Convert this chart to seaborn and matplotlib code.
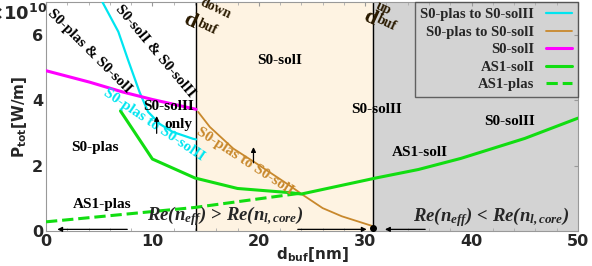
import matplotlib
matplotlib.use("Agg")
import matplotlib.pyplot as plt
import seaborn as sns
import pandas as pd

# data (x in nm, y in units of 1e10 W/m)
cyan_x = [5.3, 6.8, 7.7, 8.8, 9.6, 10.7, 11.9, 13.8, 14.1]
cyan_y = [7.0, 6.09, 5.24, 4.24, 3.64, 3.27, 3.03, 2.82, 2.8]
brown_x = [14.3, 15.4, 17.6, 19.8, 22.9, 24.2, 26.0, 27.8, 30.7]
brown_y = [3.64, 3.18, 2.52, 2.06, 1.39, 1.09, 0.70, 0.45, 0.15]
magenta_x = [0.0, 4.1, 7.2, 10.0, 14.1]
magenta_y = [4.9, 4.55, 4.25, 4.02, 3.72]
green_x = [7.0, 10.0, 14.0, 18.0, 23.0, 24.0, 31.0, 35.0, 39.0, 45.0, 50.0]
green_y = [3.67, 2.2, 1.62, 1.3, 1.17, 1.13, 1.62, 1.88, 2.22, 2.83, 3.45]
plas_x = [0.0, 14.0, 23.8]
plas_y = [0.28, 0.72, 1.15]
d_down = 14.1
d_up = 30.7

sns.set_style("white")
plt.rcParams["mathtext.fontset"] = "custom"
plt.rcParams["mathtext.rm"] = "Liberation Serif"
plt.rcParams["mathtext.bf"] = "Liberation Serif:bold"
plt.rcParams["mathtext.it"] = "Liberation Serif:italic"
plt.rcParams["mathtext.bfit"] = "Liberation Serif:bold:italic"
plt.rcParams["mathtext.sf"] = "DejaVu Sans:bold"

fig = plt.figure(figsize=(5.92, 2.66), dpi=100)
ax = fig.add_axes([46 / 592, 35 / 266, 532 / 592, 229 / 266])

ax.axvspan(d_down, d_up, color="#fef3e2", zorder=0)
ax.axvspan(d_up, 50, color="#d3d3d3", zorder=0)
ax.axvline(d_down, color="black", lw=1, zorder=1)
ax.axvline(d_up, color="black", lw=1, zorder=1)

series = [
    (cyan_x, cyan_y, "#00e5f0", 1.6, "-", "S0-plas to S0-solII"),
    (brown_x, brown_y, "#c8882c", 1.3, "-", "S0-plas to S0-solI"),
    (magenta_x, magenta_y, "#ff00ff", 2.2, "-", "S0-solI"),
    (green_x, green_y, "#11dd11", 2.2, "-", "AS1-solI"),
    (plas_x, plas_y, "#11dd11", 2.2, "--", "AS1-plas"),
]
for xs, ys, c, lw, ls, lab in series:
    df = pd.DataFrame({"x": xs, "y": ys})
    sns.lineplot(data=df, x="x", y="y", color=c, lw=lw, linestyle=ls,
                 label=lab, sort=False, ax=ax, zorder=3)

ax.set_xlim(0, 50)
ax.set_ylim(0, 7)
ax.set_xticks([0, 10, 20, 30, 40, 50])
ax.set_yticks([0, 2, 4, 6])
ax.set_xticks(range(0, 51, 2), minor=True)
ax.tick_params(direction="in", top=True, right=True, length=3, color="#999999",
               labelsize=11.5, pad=2)
ax.tick_params(which="minor", direction="in", top=True, bottom=True, length=2,
               color="#aaaaaa")
for lbl in ax.get_xticklabels() + ax.get_yticklabels():
    lbl.set_fontweight("bold")
for s in ax.spines.values():
    s.set_color("#999999")
    s.set_linewidth(0.8)

ax.set_xlabel(r"$\mathsf{d_{buf}}$[nm]", fontsize=11, fontweight="bold", labelpad=-3)
ax.set_ylabel(r"$\mathsf{P_{tot}}$[W/m]", fontsize=11, fontweight="bold", labelpad=2)
fig.text(47 / 592, 1 - 20 / 266, r"$\mathsf{\times 10^{10}}$", fontsize=13,
         ha="right", va="baseline")

serif = dict(family="Liberation Serif", fontweight="bold", fontsize=11, color="black", zorder=4)
ax.text(4.1, 5.5, "S0-plas & S0-solI", rotation=-45, ha="center", va="center", **serif)
ax.text(10.2, 5.5, "S0-solI & S0-solII", rotation=-50, ha="center", va="center", **serif)
ax.text(13.95, 3.8, "S0-solII", ha="right", va="center", **serif)
ax.text(13.8, 3.27, "only", ha="right", va="center", **serif)
ax.text(10.1, 3.25, "S0-plas to S0-solII", rotation=-34, ha="center", va="center",
        family="Liberation Serif", fontweight="bold", fontsize=11, color="#00e5f0")
ax.text(18.7, 2.12, "S0-plas to S0-solI", rotation=-33, ha="center", va="center",
        family="Liberation Serif", fontweight="bold", fontsize=11, color="#c8882c")
ax.text(4.6, 2.55, "S0-plas", ha="center", va="center", **serif)
ax.text(5.3, 0.82, "AS1-plas", ha="center", va="center", **serif)
ax.text(22.0, 5.2, "S0-solI", ha="center", va="center", **serif)
ax.text(31.1, 3.7, "S0-solII", ha="center", va="center", **serif)
ax.text(43.6, 3.36, "S0-solII", ha="center", va="center", **serif)
ax.text(35.1, 2.4, "AS1-solI", ha="center", va="center", **serif)

# d_buf boundary labels: big "d" with rotated super/subscripts
dlab = dict(family="Liberation Serif", fontweight="bold", color="#2a1a00",
            rotation=-25, ha="center", va="center", zorder=4)
ax.text(13.55, 6.42, "d", fontsize=16, **dlab)
ax.text(15.9, 6.8, "down", fontsize=10, **dlab)
ax.text(15.2, 6.22, "buf", fontsize=10, **dlab)
ax.text(30.4, 6.5, "d", fontsize=16, **dlab)
ax.text(31.7, 6.82, "up", fontsize=10, **dlab)
ax.text(32.0, 6.35, "buf", fontsize=10, **dlab)

ax.text(16.8, 0.45, r"$\mathbfit{Re(n_{eff})}$ > $\mathbfit{Re(n_{l,core})}$", ha="center",
        va="center", family="Liberation Serif", fontweight="bold", fontsize=13.5, zorder=4)
ax.text(41.8, 0.42, r"$\mathbfit{Re(n_{eff})}$ < $\mathbfit{Re(n_{l,core})}$", ha="center",
        va="center", family="Liberation Serif", fontweight="bold", fontsize=13.5, zorder=4)

arr = dict(arrowstyle="-|>", color="black", lw=0.9, mutation_scale=7)
ax.annotate("", xy=(10.4, 3.6), xytext=(10.4, 2.9), arrowprops=arr, zorder=5)
ax.annotate("", xy=(19.5, 2.65), xytext=(19.5, 2.0), arrowprops=arr, zorder=5)
ax.annotate("", xy=(0.8, 0.05), xytext=(7.9, 0.05), arrowprops=arr, zorder=5)
ax.annotate("", xy=(30.4, 0.05), xytext=(23.4, 0.05), arrowprops=arr, zorder=5)
ax.annotate("", xy=(31.6, 0.05), xytext=(35.9, 0.05), arrowprops=arr, zorder=5)
ax.plot([d_up], [0.08], "o", color="black", ms=4, zorder=6, clip_on=False)

leg = ax.legend(loc="upper right", markerfirst=False, frameon=True, fancybox=False,
                borderaxespad=0, handlelength=1.8, labelspacing=0.3,
                prop=dict(family="Liberation Serif", weight="bold", size=10.5))
leg.get_frame().set_facecolor("none")
leg.get_frame().set_edgecolor("#444444")
leg.get_frame().set_linewidth(1.0)
for t in leg.get_texts():
    t.set_ha("right")

fig.savefig("out.png", dpi=100)
